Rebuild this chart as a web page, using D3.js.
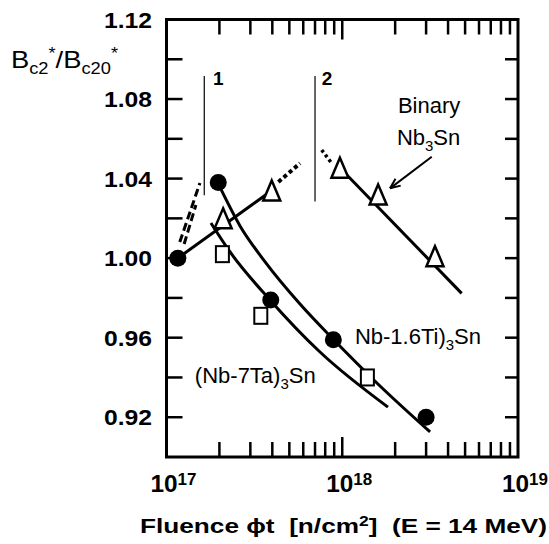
<!DOCTYPE html>
<html><head><meta charset="utf-8">
<script src="https://cdn.jsdelivr.net/npm/d3@7"></script>
<style>body{margin:0;background:#fff}svg{display:block}text{white-space:pre}</style>
</head><body><svg id="c" width="549" height="544"></svg>
<script>
// ---- data ----
const circleX = [1.16e17, 1.97e17, 3.92e17, 8.9e17, 3.0e18];
const circleY = [1.000, 1.038, 0.979, 0.959, 0.920];
const triangleX = [2.10e17, 3.97e17, 9.7e17, 1.60e18, 3.37e18];
const triangleY = [1.020, 1.034, 1.0455, 1.032, 1.001];
const squareX = [2.08e17, 3.44e17, 1.39e18];
const squareY = [1.002, 0.971, 0.940];

const tiCurveX = [1.96e17, 2.62e17, 3.64e17, 5.75e17, 8.86e17, 1.64e18, 3.16e18];
const tiCurveY = [1.0378, 1.0162, 0.9981, 0.9769, 0.9593, 0.9357, 0.9126];
const taCurveX = [1.79e17, 2.30e17, 3.88e17, 7.47e17, 1.82e18];
const taCurveY = [1.0177, 1.0031, 0.979, 0.9528, 0.9251];
const binaryLowX = [1.16e17, 3.97e17];
const binaryLowY = [1.000, 1.034];
const binaryHighX = [1.036e18, 4.78e18];
const binaryHighY = [1.0428, 0.9823];
const dotted1X = [4.33e17, 5.75e17];
const dotted1Y = [1.0383, 1.0477];
const dotted2X = [7.64e17, 8.71e17];
const dotted2Y = [1.0544, 1.0477];
const dashedAX = [1.19e17, 1.55e17];
const dashedAY = [1.0081, 1.0378];
const dashedBX = [1.26e17, 1.47e17];
const dashedBY = [1.0071, 1.0267];
const markerLineX = [1.64e17, 7.0e17];
const markerLineY0 = [1.0316, 1.0285];
const markerLineY1 = [1.0916, 1.0916];
const markerLabels = ["1", "2"];
const markerLabelX = [1.84e17, 7.64e17];
const markerLabelY = 1.087;
const arrowFrom = [3.23e18, 1.051];
const arrowTo = [1.87e18, 1.0351];

const yMajorTicks = [1.12, 1.08, 1.04, 1.00, 0.96, 0.92];
const yMajorLabels = ["1.12", "1.08", "1.04", "1.00", "0.96", "0.92"];
const yAllTicks = [1.10, 1.08, 1.06, 1.04, 1.02, 1.00, 0.98, 0.96, 0.94, 0.92];
const xMajorTicks = [1e17, 1e18, 1e19];
const xMajorExp = ["17", "18", "19"];
const xMinorTicks = [2e17,3e17,4e17,5e17,6e17,7e17,8e17,9e17,2e18,3e18,4e18,5e18,6e18,7e18,8e18,9e18];

// ---- scales ----
const x = d3.scaleLog().domain([1e17, 1e19]).range([166.5, 518]);
const y = d3.scaleLinear().domain([0.90, 1.12]).range([457, 19.5]);
const svg = d3.select("#c");
const zip = (a, b) => a.map((v, i) => [v, b[i]]);
const line = d3.line().x(d => x(d[0])).y(d => y(d[1]));
const curve = d3.line().x(d => x(d[0])).y(d => y(d[1])).curve(d3.curveMonotoneX);
const F = "'Liberation Sans', Arial, Helvetica, sans-serif";

// ---- frame & ticks ----
const x0 = x.range()[0], x1 = x.range()[1], y0 = y.range()[0], y1 = y.range()[1];
svg.append("rect").attr("x", x0).attr("y", y1).attr("width", x1 - x0).attr("height", y0 - y1)
  .attr("fill", "none").attr("stroke", "#000").attr("stroke-width", 3);
const tk = svg.append("g").attr("stroke", "#000").attr("stroke-width", 2.5);
yAllTicks.forEach(v => {
  tk.append("line").attr("x1", x0).attr("x2", x0 + 16).attr("y1", y(v)).attr("y2", y(v));
  tk.append("line").attr("x1", x1).attr("x2", x1 - 13).attr("y1", y(v)).attr("y2", y(v));
});
xMinorTicks.concat([1e18]).forEach(v => {
  const len = v === 1e18 ? 20 : 15;
  tk.append("line").attr("x1", x(v)).attr("x2", x(v)).attr("y1", y0).attr("y2", y0 - len);
  tk.append("line").attr("x1", x(v)).attr("x2", x(v)).attr("y1", y1).attr("y2", y1 + len);
});

// y labels
yMajorTicks.forEach((v, i) => {
  svg.append("text").attr("x", 152).attr("y", y(v) + 8).attr("text-anchor", "end")
    .attr("font-family", F).attr("font-weight", "bold").attr("font-size", 22)
    .attr("textLength", 48).attr("lengthAdjust", "spacingAndGlyphs").text(yMajorLabels[i]);
});
// x labels
xMajorTicks.forEach((v, i) => {
  const t = svg.append("text").attr("x", x(v) - 16).attr("y", 491.5)
    .attr("font-family", F).attr("font-weight", "bold").attr("font-size", 23)
    .attr("textLength", 46).attr("lengthAdjust", "spacingAndGlyphs");
  t.append("tspan").text("10");
  t.append("tspan").attr("font-size", 16).attr("dy", -7).text(xMajorExp[i]);
});

// axis titles
const yt = svg.append("text").attr("x", 11).attr("y", 68).attr("font-family", F).attr("font-size", 24)
  .attr("textLength", 107).attr("lengthAdjust", "spacingAndGlyphs");
yt.append("tspan").text("B");
yt.append("tspan").attr("font-size", 16).attr("dy", 6).text("c2");
yt.append("tspan").attr("font-size", 16).attr("dy", -15).text("*");
yt.append("tspan").attr("dy", 9).text("/B");
yt.append("tspan").attr("font-size", 16).attr("dy", 6).text("c20");
yt.append("tspan").attr("font-size", 16).attr("dy", -15).text("*");

const xt = svg.append("text").attr("x", 140).attr("y", 533).attr("font-family", F)
  .attr("font-weight", "bold").attr("font-size", 21)
  .attr("textLength", 407).attr("lengthAdjust", "spacingAndGlyphs");
xt.append("tspan").text("Fluence \u03D5t  [n/cm");
xt.append("tspan").attr("font-size", 14).attr("dy", -7).text("2");
xt.append("tspan").attr("dy", 7).text("]  (E = 14 MeV)");

// ---- vertical marker lines ----
markerLineX.forEach((v, i) => {
  svg.append("line").attr("x1", x(v)).attr("x2", x(v)).attr("y1", y(markerLineY1[i])).attr("y2", y(markerLineY0[i]))
    .attr("stroke", "#000").attr("stroke-width", 1.2);
  svg.append("text").attr("x", x(markerLabelX[i])).attr("y", y(markerLabelY)).attr("font-family", F)
    .attr("font-weight", "bold").attr("font-size", 19).text(markerLabels[i]);
});

// ---- lines ----
const L = svg.append("g").attr("fill", "none").attr("stroke", "#000").attr("stroke-linecap", "butt");
L.append("path").attr("d", curve(zip(tiCurveX, tiCurveY))).attr("stroke-width", 3);
L.append("path").attr("d", curve(zip(taCurveX, taCurveY))).attr("stroke-width", 3);
L.append("path").attr("d", line(zip(binaryLowX, binaryLowY))).attr("stroke-width", 3);
L.append("path").attr("d", line(zip(binaryHighX, binaryHighY))).attr("stroke-width", 3);
L.append("path").attr("d", line(zip(dotted1X, dotted1Y))).attr("stroke-width", 4).attr("stroke-dasharray", "4 3");
L.append("path").attr("d", line(zip(dotted2X, dotted2Y))).attr("stroke-width", 3.5).attr("stroke-dasharray", "3 3");
L.append("path").attr("d", line(zip(dashedAX, dashedAY))).attr("stroke-width", 3).attr("stroke-dasharray", "8 4");
L.append("path").attr("d", line(zip(dashedBX, dashedBY))).attr("stroke-width", 3).attr("stroke-dasharray", "8 4");

// arrow
const ax1 = x(arrowFrom[0]), ay1 = y(arrowFrom[1]), ax2 = x(arrowTo[0]), ay2 = y(arrowTo[1]);
svg.append("line").attr("x1", ax1).attr("y1", ay1).attr("x2", ax2).attr("y2", ay2).attr("stroke", "#000").attr("stroke-width", 2);
const ang = Math.atan2(ay1 - ay2, ax1 - ax2);
[-0.4, 0.4].forEach(d => {
  svg.append("line").attr("x1", ax2).attr("y1", ay2)
    .attr("x2", ax2 + 11 * Math.cos(ang + d)).attr("y2", ay2 + 11 * Math.sin(ang + d))
    .attr("stroke", "#000").attr("stroke-width", 2);
});

// ---- markers ----
svg.append("g").selectAll("path").data(zip(triangleX, triangleY)).join("path")
  .attr("d", d => { const cx = x(d[0]), cy = y(d[1]); return `M${cx},${cy - 10}L${cx + 8.5},${cy + 10}L${cx - 8.5},${cy + 10}Z`; })
  .attr("fill", "#fff").attr("stroke", "#000").attr("stroke-width", 2.5).attr("stroke-linejoin", "miter");
svg.append("g").selectAll("rect").data(zip(squareX, squareY)).join("rect")
  .attr("x", d => x(d[0]) - 6.5).attr("y", d => y(d[1]) - 8).attr("width", 13).attr("height", 16)
  .attr("fill", "#fff").attr("stroke", "#000").attr("stroke-width", 2);
svg.append("g").selectAll("circle").data(zip(circleX, circleY)).join("circle")
  .attr("cx", d => x(d[0])).attr("cy", d => y(d[1])).attr("r", 8.5).attr("fill", "#000");

// ---- annotations ----
const ann = (txt, sub, rest, xv, yv, anchor, size) => {
  const t = svg.append("text").attr("x", x(xv)).attr("y", y(yv)).attr("font-family", F).attr("font-size", size)
    .attr("text-anchor", anchor || "start");
  t.append("tspan").text(txt);
  if (sub) { t.append("tspan").attr("font-size", size * 0.68).attr("dy", 6).text(sub);
             t.append("tspan").attr("dy", -6).text(rest); }
  return t;
};
ann("Binary", null, null, 3.12e18, 1.073, "middle", 22);
ann("Nb", "3", "Sn", 3.1e18, 1.0569, "middle", 22);
ann("Nb-1.6Ti)", "3", "Sn", 1.18e18, 0.9568, "start", 22);
ann("(Nb-7Ta)", "3", "Sn", 1.45e17, 0.937, "start", 22);
</script></body></html>
